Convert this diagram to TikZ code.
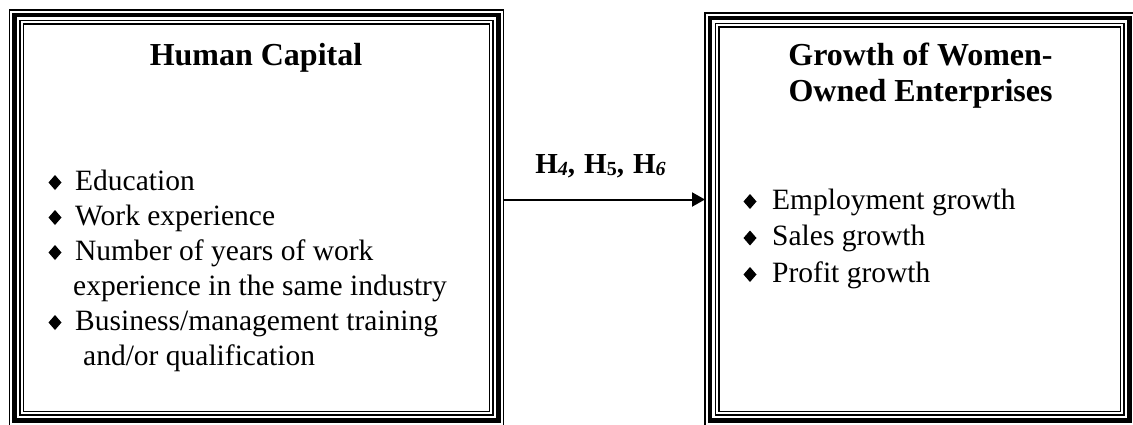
\documentclass[tikz,border=0pt]{standalone}
\usepackage{fontspec}
\setmainfont{Liberation Serif}
\usetikzlibrary{arrows.meta,calc}

% triple border drawn around a panel node: thin, thick and thin outer rings
\newcommand\panelrings[1]{%
  \draw[line width=1.3pt] ([xshift=-3.5pt,yshift=3.5pt]#1.north west) rectangle ([xshift=3.5pt,yshift=-3.5pt]#1.south east);
  \draw[line width=4.5pt] ([xshift=-9pt,yshift=9pt]#1.north west) rectangle ([xshift=9pt,yshift=-9pt]#1.south east);
  \draw[line width=1.5pt] ([xshift=-14pt,yshift=14pt]#1.north west) rectangle ([xshift=14pt,yshift=-14pt]#1.south east);
}
% diamond bullet centred at a point
\newcommand\diamondat[1]{%
  \fill ($(#1)+(-6.5,0)$) -- ++(6.5,7.5) -- ++(6.5,-7.5) -- ++(-6.5,-7.5) -- cycle;
}
\newcommand\hsub[1]{{\fontsize{20}{20}\selectfont\raisebox{-2.5pt}{#1}}}

\begin{document}
\begin{tikzpicture}[x=1pt,y=-1pt,
  panel/.style={draw, line width=1.8pt, inner sep=0pt, outer sep=0pt},
  heading/.style={font=\bfseries\fontsize{32}{36.7}\selectfont, inner sep=0pt, anchor=base},
  entry/.style={font=\fontsize{29.5}{35}\selectfont, inner sep=0pt, anchor=base west},
  link/.style={line width=2pt, -{Triangle[length=13pt,width=14pt]}},
  hyp/.style={font=\bfseries\fontsize{29}{30}\selectfont, inner sep=0pt, anchor=base},
]
\useasboundingbox (0,0) rectangle (1133,424);

% panels
\node[panel, minimum width=466pt, minimum height=387.5pt] (hc) at (256.5,217.75) {};
\node[panel, minimum width=401.5pt, minimum height=384.5pt] (gw) at (919.75,219.25) {};
\panelrings{hc}
\panelrings{gw}

% headings
\node[heading] (hct) at (256,65) {Human Capital};
\node[heading] (gwt1) at (920.5,65) {Growth of Women-};
\node[heading] (gwt2) at (920.5,101.7) {Owned Enterprises};

% human capital items
\node[entry] (e1) at (75,190) {Education};
\node[entry] (e2) at (75,225) {Work experience};
\node[entry] (e3) at (75,260) {Number of years of work};
\node[entry] (e3b) at (73,295) {experience in the same industry};
\node[entry] (e4) at (75,330) {Business/management training};
\node[entry] (e4b) at (83,365) {and/or qualification};
\foreach \y in {190,225,260,330} { \diamondat{55,\y-7.5} }

% growth items
\node[entry] (g1) at (772,209) {Employment growth};
\node[entry] (g2) at (772,245.5) {Sales growth};
\node[entry] (g3) at (772,282) {Profit growth};
\foreach \y in {209,245.5,282} { \diamondat{750,\y-7.5} }

% hypothesis link
\coordinate (ay) at (0,199.5);
\draw[link] ($(hc.east |- ay)+(14,0)$) -- ($(gw.west |- ay)+(-14,0)$);
\node[hyp] (hyp) at (600.5,173) {H\hsub{\textit{4}},\hspace{9pt}H\hsub{5},\hspace{9pt}H\hsub{\textit{6}}};
\end{tikzpicture}
\end{document}
